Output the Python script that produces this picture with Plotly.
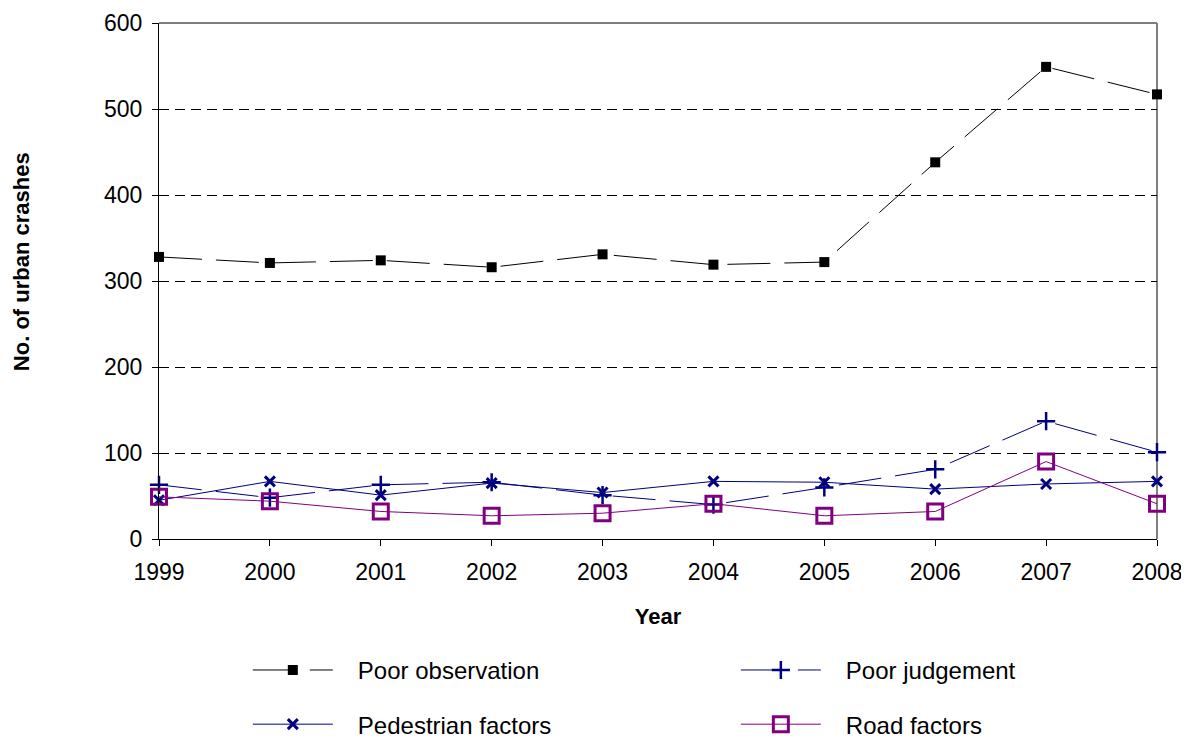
import plotly.graph_objects as go

years = [1999, 2000, 2001, 2002, 2003, 2004, 2005, 2006, 2007, 2008]
poor_observation = [328, 321, 324, 316, 331, 319, 322, 438, 549, 517]
poor_judgement = [63, 48, 63, 66, 51, 40, 60, 81, 137, 101]
pedestrian_factors = [45, 67, 51, 65, 54, 67, 66, 58, 64, 67]
road_factors = [49, 44, 32, 27, 30, 41, 27, 32, 90, 41]
series_names = ["Poor observation", "Poor judgement", "Pedestrian factors", "Road factors"]

FONT = "Liberation Sans, Arial, sans-serif"
DASH = "43px,14px"
PAD = "\u00a0\u00a0\u00a0"

fig = go.Figure()
fig.add_trace(go.Scatter(
    x=years, y=poor_observation, name=PAD + series_names[0], mode="lines+markers",
    legend="legend", legendgroup="a", legendrank=1, cliponaxis=False,
    line=dict(color="#000000", width=1, dash=DASH),
    marker=dict(symbol="square", size=10, color="#000000")))
fig.add_trace(go.Scatter(
    x=years, y=poor_judgement, name=PAD + series_names[1], mode="lines+markers",
    legend="legend2", legendgroup="b", legendrank=1, cliponaxis=False,
    line=dict(color="#000080", width=1, dash=DASH),
    marker=dict(symbol="cross-thin", size=13, line=dict(color="#000080", width=2.5))))
fig.add_trace(go.Scatter(
    x=years, y=pedestrian_factors, name=PAD + series_names[2], mode="lines+markers",
    legend="legend", legendgroup="c", legendrank=2, cliponaxis=False,
    line=dict(color="#000080", width=1),
    marker=dict(symbol="x-thin", size=10, line=dict(color="#000080", width=3))))
fig.add_trace(go.Scatter(
    x=years, y=road_factors, name=PAD + series_names[3], mode="lines+markers",
    legend="legend2", legendgroup="d", legendrank=2, cliponaxis=False,
    line=dict(color="#800080", width=1),
    marker=dict(symbol="square-open", size=15, color="#800080", line=dict(width=3))))

legend_common = dict(
    orientation="v", yanchor="top", xanchor="left", y=-0.211,
    itemwidth=80, font=dict(family=FONT, size=24, color="black"),
    tracegroupgap=20, traceorder="grouped", bgcolor="rgba(0,0,0,0)",
)

fig.update_layout(
    width=1181, height=732,
    margin=dict(l=151, r=32, t=15, b=201, autoexpand=False),
    paper_bgcolor="white", plot_bgcolor="white",
    font=dict(family=FONT, size=23, color="black"),
    showlegend=True,
    legend=dict(x=0.089, **legend_common),
    legend2=dict(x=0.578, **legend_common),
    xaxis=dict(
        range=[1999, 2008], tickmode="array", tickvals=years,
        ticktext=[str(y) for y in years],
        showgrid=False, zeroline=False,
        showline=True, linecolor="black", linewidth=1,
        ticks="outside", ticklen=6, tickcolor="black",
        tickfont=dict(size=23), ticklabelstandoff=6,
        title=dict(text="<b>Year</b>", font=dict(size=22), standoff=25),
    ),
    yaxis=dict(
        range=[0, 600], tickmode="array", tickvals=[0, 100, 200, 300, 400, 500, 600],
        showgrid=True, gridcolor="black", griddash="10px,6px", gridwidth=1,
        zeroline=False,
        showline=True, linecolor="black", linewidth=1,
        ticks="outside", ticklen=6, tickcolor="black",
        tickfont=dict(size=23), ticklabelstandoff=5,
    ),
    annotations=[dict(
        text="<b>No. of urban crashes</b>", textangle=-90,
        xref="paper", yref="paper", x=-0.1375, y=0.538,
        xanchor="center", yanchor="middle", showarrow=False,
        font=dict(family=FONT, size=22, color="black"),
    )],
)

# Plot border: top solid line and grey right edge (behind the data)
fig.add_shape(type="line", xref="paper", yref="paper", x0=0, x1=1, y0=1, y1=1,
              layer="below", line=dict(color="black", width=1))
fig.add_shape(type="line", xref="paper", yref="paper", x0=1, x1=1, y0=0, y1=1,
              layer="below", line=dict(color="#808080", width=2))

fig.write_html("out.html")
